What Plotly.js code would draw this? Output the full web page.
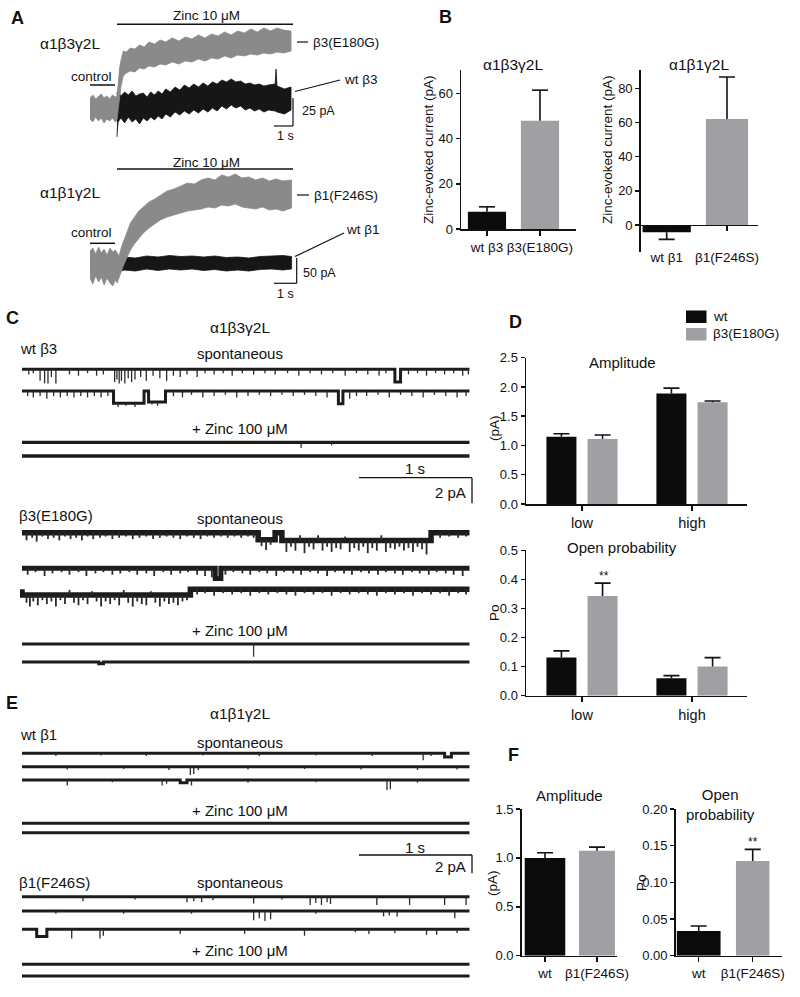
<!DOCTYPE html>
<html><head><meta charset="utf-8">
<script src="https://cdn.plot.ly/plotly-3.0.1.min.js"></script>
<style>html,body{margin:0;padding:0;background:#fff;}#chart{width:800px;height:997px;}</style>
</head><body><div id="chart"></div>
<script>
// ================= DATA =================
// Panel A: whole-cell current envelopes [time (s), low (pA), high (pA)]
const aB3mutEnv = [[0.00,-11,10],[0.15,-14,13],[0.30,-9,9],[0.45,-13,12],[0.60,-10,14],[0.75,-15,10],[0.90,-11,12],[1.05,-13,9],[1.20,-10,13],[1.35,-14,11],[1.44,-12,12],
  [1.50,-4,22],[1.58,10,40],[1.66,22,48],[1.78,32,57],[1.95,35,56],[2.15,37,60],[2.40,36,59],[2.65,40,63],[2.90,39,61],[3.15,42,66],[3.45,41,64],[3.75,44,68],[4.05,43,66],[4.40,46,70],[4.75,44,67],[5.10,47,71],[5.45,46,69],[5.80,49,73],[6.15,47,70],[6.50,50,74],[6.85,49,72],[7.20,52,76],[7.55,50,73],[7.90,53,77],[8.25,52,75],[8.60,54,79],[8.95,53,76],[9.30,55,80],[9.65,54,77],[10.00,56,80],[10.35,55,78],[10.75,57,77]];
const aB3wtEnv = [[1.44,-29,14],[1.50,-14,18],[1.65,-10,12],[1.85,-15,16],[2.05,-9,13],[2.25,-14,17],[2.45,-11,12],[2.65,-16,14],[2.85,-10,15],[3.05,-13,11],[3.25,-9,16],[3.45,-12,13],[3.65,-8,17],[3.85,-11,14],[4.05,-6,19],[4.30,-9,16],[4.55,-4,21],[4.80,-7,18],[5.05,-3,23],[5.30,-6,20],[5.55,-2,24],[5.80,-5,21],[6.05,-1,25],[6.30,-4,22],[6.55,0,26],[6.80,-3,24],[7.05,2,28],[7.30,-1,26],[7.55,3,29],[7.80,0,26],[8.05,2,27],[8.30,-2,24],[8.55,0,25],[8.80,-3,23],[9.05,-1,24],[9.30,-4,22],[9.55,-2,23],[9.90,-3,24],[9.95,-3,39],[10.00,-4,22],[10.40,-6,19],[10.75,-2,21]];
const aB1mutEnv = [[0.00,-30,24],[0.12,-42,30],[0.25,-26,18],[0.38,-38,32],[0.50,-28,20],[0.62,-44,28],[0.75,-30,16],[0.88,-40,30],[1.00,-46,22],[1.12,-34,26],[1.20,-40,20],
  [1.28,-30,14],[1.40,-14,34],[1.52,0,50],[1.65,14,64],[1.78,26,80],[1.95,38,92],[2.15,50,104],[2.35,60,112],[2.60,70,122],[2.85,78,128],[3.10,86,136],[3.40,92,144],[3.70,96,148],[4.00,100,154],[4.30,104,160],[4.60,106,158],[4.90,108,166],[5.20,112,170],[5.50,110,166],[5.80,116,176],[6.10,114,172],[6.40,118,178],[6.70,112,170],[7.00,110,172],[7.30,108,166],[7.60,112,170],[7.90,106,164],[8.20,108,168],[8.50,104,164],[8.88,110,166]];
const aB1wtEnv = [[1.25,-18,10],[1.5,-14,12],[2.0,-16,10],[2.5,-12,14],[3.0,-15,12],[3.5,-12,15],[4.0,-14,13],[4.5,-12,14],[5.0,-15,12],[5.5,-13,14],[6.0,-16,11],[6.5,-14,12],[7.0,-16,10],[7.5,-13,13],[8.0,-12,14],[8.5,-14,15],[8.88,-12,13]];

// Panel B: zinc-evoked current (pA), mean and SEM
const bCats1 = ['wt β3','β3(E180G)'];
const bVals1 = [7.6, 47.9];
const bErr1  = [2.2, 13.5];
const bCats2 = ['wt β1','β1(F246S)'];
const bVals2 = [-4.3, 62.0];
const bErr2  = [4.1, 24.6];

// Panels C / E: single-channel events. spikes [time s, amplitude pA], states [t0, t1, level pA]
const cWt1Spikes = [[0.06,-0.4],[0.1,-0.3],[0.16,-0.9],[0.2,-1.1],[0.23,-1.1],[0.26,-0.6],[0.3,-1.1],[0.42,-0.4],[0.5,-0.5],[0.58,-0.3],[0.66,-0.5],[0.72,-0.4],[0.82,-1.0],[0.84,-0.8],[0.86,-1.1],[0.88,-0.9],[0.91,-1.1],[0.94,-0.7],[0.97,-1.0],[1.0,-0.8],[1.05,-0.6],[1.1,-0.9],[1.16,-0.5],[1.22,-0.7],[1.28,-0.9],[1.34,-0.5],[1.4,-0.6],[1.46,-0.4],[1.55,-0.6],[1.62,-0.3],[1.7,-0.4],[1.78,-0.3],[1.86,-0.5],[1.95,-0.3],[2.05,-0.4],[2.15,-0.3],[2.24,-0.4],[2.35,-0.3],[2.45,-0.5],[2.55,-0.3],[2.65,-0.4],[2.75,-0.3],[2.86,-0.5],[2.96,-0.3],[3.06,-0.4],[3.16,-0.5],[3.22,-0.3],[3.42,-0.4],[3.5,-0.3],[3.58,-0.5],[3.66,-0.3],[3.74,-0.4],[3.82,-0.3],[3.9,-0.5],[3.95,-0.4]];
const cWt1States = [[3.30,3.35,-1.0]];
const cWt2Spikes = [[0.05,-0.4],[0.1,-0.5],[0.16,-0.4],[0.22,-0.6],[0.28,-0.4],[0.34,-0.5],[0.4,-0.4],[0.46,-0.5],[0.52,-0.4],[0.58,-0.5],[0.64,-0.4],[0.7,-0.5],[0.76,-0.4],[0.85,-0.3],[0.92,-0.2],[1.0,-0.3],[1.15,-0.2],[1.2,-0.3],[1.34,-0.4],[1.42,-0.5],[1.5,-0.3],[1.6,-0.5],[1.7,-0.4],[1.8,-0.3],[1.9,-0.5],[2.0,-0.4],[2.1,-0.3],[2.2,-0.4],[2.3,-0.3],[2.4,-0.4],[2.5,-0.3],[2.6,-0.4],[2.7,-0.5],[2.9,-0.6],[2.96,-0.4],[3.05,-0.4],[3.15,-0.3],[3.25,-0.5],[3.35,-0.3],[3.45,-0.4],[3.55,-0.5],[3.65,-0.3],[3.75,-0.4],[3.85,-0.5],[3.93,-0.4]];
const cWt2States = [[0.81,1.08,-0.95],[1.12,1.27,-0.85],[2.80,2.84,-1.0]];
const cWtZn1Spikes = [[2.47,-0.45],[2.74,-0.25]];
const cWtZn2Spikes = [];
const cMut1Spikes = [[0.04,-0.6],[0.09,-0.4],[0.13,-0.7],[0.18,-0.3],[0.23,-0.5],[0.28,-0.4],[0.33,-0.6],[0.38,-0.3],[0.43,-0.5],[0.48,-0.4],[0.53,-0.6],[0.58,-0.3],[0.63,-0.5],[0.69,-0.4],[0.74,-0.3],[0.8,-0.5],[0.86,-0.4],[0.92,-0.3],[0.98,-0.5],[1.04,-0.4],[1.1,-0.3],[1.16,-0.5],[1.22,-0.4],[1.28,-0.3],[1.34,-0.4],[1.4,-0.5],[1.46,-0.3],[1.52,-0.4],[1.58,-0.5],[1.64,-0.3],[1.7,-0.4],[1.76,-0.3],[1.82,-0.4],[1.88,-0.3],[1.94,-0.4],[2.0,-0.3],[2.05,-0.4],
  [2.12,-0.5],[2.16,-0.8],[2.2,-0.4],[2.34,-0.9],[2.38,-0.5],[2.42,-0.8],[2.46,0.4],[2.5,-1.0],[2.54,-0.5],[2.58,-0.7],[2.62,0.4],[2.66,-0.8],[2.7,-0.5],[2.74,-0.9],[2.78,-0.6],[2.82,-0.7],[2.86,0.3],[2.9,-0.9],[2.94,-0.6],[2.98,-0.8],[3.02,-0.5],[3.06,-1.0],[3.1,-0.6],[3.14,-0.8],[3.18,0.4],[3.22,-0.9],[3.26,-0.6],[3.3,-0.7],[3.34,-0.5],[3.38,-0.8],[3.42,-0.6],[3.46,-0.9],[3.5,-0.5],[3.54,-0.7],[3.58,-1.1],[3.7,-0.4],[3.78,-0.3],[3.86,-0.4],[3.93,-0.3]];
const cMut1States = [[2.09,2.24,-0.55],[2.30,3.62,-0.6]];
const cMut2Spikes = [[0.05,-0.5],[0.12,-0.3],[0.2,-0.6],[0.27,-0.4],[0.35,-0.3],[0.42,-0.5],[0.5,-0.3],[0.57,-0.6],[0.65,-0.4],[0.72,-0.3],[0.8,-0.5],[0.87,-0.4],[0.95,-0.3],[1.02,-0.5],[1.1,-0.4],[1.17,-0.6],[1.25,-0.3],[1.32,-0.5],[1.4,-0.4],[1.47,-0.3],[1.55,-0.5],[1.62,-0.6],[1.68,-0.7],[1.8,-0.5],[1.87,-0.3],[1.95,-0.4],[2.02,-0.5],[2.1,-0.3],[2.17,-0.4],[2.25,-0.6],[2.32,-0.3],[2.4,-0.4],[2.47,-0.5],[2.55,-0.3],[2.62,-0.4],[2.7,-0.6],[2.77,-0.3],[2.85,-0.4],[2.92,-0.5],[3.0,-0.3],[3.07,-0.4],[3.15,-0.5],[3.22,-0.3],[3.3,-0.4],[3.37,-0.5],[3.45,-0.3],[3.52,-0.4],[3.6,-0.5],[3.67,-0.3],[3.75,-0.4],[3.82,-0.5],[3.9,-0.6]];
const cMut2States = [[1.71,1.76,-0.8]];
const cMut3Spikes = [[0.04,-0.6],[0.07,-0.9],[0.1,-0.5],[0.14,-0.8],[0.18,-0.4],[0.22,-0.7],[0.26,-0.5],[0.3,-0.9],[0.34,-0.4],[0.38,-0.7],[0.42,0.4],[0.46,-0.6],[0.5,-0.8],[0.54,-0.4],[0.58,-0.7],[0.62,0.3],[0.66,-0.5],[0.7,-0.9],[0.74,-0.5],[0.78,-0.7],[0.82,-0.4],[0.86,-0.8],[0.9,0.4],[0.94,-0.6],[0.98,-0.9],[1.02,-0.5],[1.06,-0.7],[1.1,-0.8],[1.14,0.3],[1.18,-0.6],[1.22,-0.9],[1.26,-0.5],[1.3,-0.7],[1.34,-0.6],[1.38,-0.8],[1.42,-0.5],[1.46,-0.4],
  [1.55,-0.4],[1.62,-0.3],[1.7,-0.5],[1.78,-0.3],[1.86,-0.4],[1.94,-0.3],[2.02,-0.5],[2.1,-0.3],[2.18,-0.4],[2.26,-0.3],[2.34,-0.4],[2.42,-0.5],[2.5,-0.3],[2.58,-0.4],[2.66,-0.3],[2.74,-0.5],[2.82,-0.3],[2.9,-0.4],[2.98,-0.3],[3.06,-0.4],[3.14,-0.5],[3.22,-0.3],[3.3,-0.4],[3.38,-0.3],[3.46,-0.5],[3.54,-0.3],[3.62,-0.4],[3.7,-0.3],[3.78,-0.5],[3.86,-0.3],[3.93,-0.4]];
const cMut3States = [[0.0,1.49,-0.45]];
const cMutZn1Spikes = [[2.05,-1.0]];
const cMutZn2States = [[0.68,0.72,-0.12]];

const eWt1Spikes = [[0.3,-0.3],[0.7,-0.25],[1.1,-0.3],[1.6,-0.25],[2.1,-0.3],[2.6,-0.25],[3.1,-0.3],[3.55,-0.75],[3.62,-0.3]];
const eWt1States = [[3.74,3.80,-0.4]];
const eWt2Spikes = [[0.4,-0.3],[0.9,-0.25],[1.3,-0.35],[1.49,-0.9],[1.52,-0.8],[1.56,-0.4],[2.0,-0.3],[2.5,-0.25],[3.0,-0.3],[3.5,-0.35],[3.85,-0.3]];
const eWt3Spikes = [[0.40,-0.6],[0.8,-0.25],[1.24,-0.6],[1.28,-0.4],[1.5,-0.6],[2.0,-0.3],[2.6,-0.25],[3.23,-1.1],[3.26,-1.0],[3.5,-0.3]];
const eWt3States = [[1.40,1.46,-0.3]];
const eMut1Spikes = [[0.54,-0.5],[1.0,-0.3],[1.46,-0.6],[1.52,-0.5],[1.59,-0.6],[1.69,-0.4],[2.05,-0.75],[2.3,-0.3],[2.55,-0.9],[2.6,-0.7],[2.65,-0.9],[2.7,-0.6],[2.73,-0.8],[3.14,-0.9],[3.43,-0.9],[3.74,-0.9],[3.93,-0.9]];
const eMut2Spikes = [[0.3,-0.3],[0.9,-0.3],[1.5,-0.3],[2.05,-1.0],[2.1,-0.8],[2.15,-1.1],[2.2,-0.9],[2.6,-0.3],[3.2,-0.6],[3.25,-0.5],[3.32,-0.6],[3.83,-0.8]];
const eMut3Spikes = [[0.44,-1.0],[0.69,-1.0],[0.72,-0.7],[1.4,-0.5],[1.97,-0.5],[2.5,-0.7],[2.95,-0.3],[3.07,-0.5],[3.3,-0.4],[3.58,-0.6],[3.67,-0.6],[3.85,-0.4]];
const eMut3States = [[0.13,0.22,-0.8]];

// Panel D: amplitude (pA) and open probability, groups low / high
const dCats = ['low','high'];
const dSeries = ['wt','β3(E180G)'];
const dAmpWt = [1.15, 1.89];   const dAmpWtErr = [0.05, 0.09];
const dAmpMut = [1.11, 1.74];  const dAmpMutErr = [0.07, 0.02];
const dPoWt = [0.131, 0.060];  const dPoWtErr = [0.023, 0.009];
const dPoMut = [0.343, 0.100]; const dPoMutErr = [0.044, 0.031];

// Panel F
const fCats = ['wt','β1(F246S)'];
const fAmp = [1.00, 1.074];  const fAmpErr = [0.053, 0.036];
const fPo = [0.0337, 0.129]; const fPoErr = [0.0068, 0.016];

// ================= DRAWING =================
const FONT = 'Liberation Sans, Arial, sans-serif';
const W = 800, H = 997;
const px = x => x / W, py = y => 1 - y / H;
const INK = '#111111', BLK = '#0b0b0b', GRY = '#a0a0a4';
const layout = {width:W, height:H, margin:{l:0,r:0,t:0,b:0}, paper_bgcolor:'#ffffff', plot_bgcolor:'rgba(0,0,0,0)',
  showlegend:false, hovermode:false, font:{family:FONT,size:13,color:INK}, annotations:[], shapes:[]};
const traces = [];
const hidden = {visible:false};

function ax(n, xpx, ypx, xr, yr, xo, yo){
  const s = n === 1 ? '' : String(n);
  layout['xaxis'+s] = Object.assign({domain:[px(xpx[0]),px(xpx[1])], range:xr, anchor:'y'+s, fixedrange:true}, xo||{});
  layout['yaxis'+s] = Object.assign({domain:[py(ypx[1]),py(ypx[0])], range:yr, anchor:'x'+s, fixedrange:true}, yo||{});
  return {x:'x'+s, y:'y'+s, ppx:(xpx[1]-xpx[0])/(xr[1]-xr[0])};
}
function T(x, y, text, size, opt){
  layout.annotations.push(Object.assign({xref:'paper',yref:'paper',x:px(x),y:py(y),text:text,showarrow:false,
    xanchor:'center',yanchor:'middle',font:{family:FONT,size:size||14,color:INK}}, opt||{}));
}
function Ln(x0,y0,x1,y1,w){
  layout.shapes.push({type:'line',xref:'paper',yref:'paper',x0:px(x0),y0:py(y0),x1:px(x1),y1:py(y1),line:{color:INK,width:w||1.5}});
}
function band(env, a, color){
  const xs = env.map(r=>r[0]), lo = env.map(r=>r[1]), hi = env.map(r=>r[2]);
  traces.push({type:'scatter',mode:'lines',x:xs.concat(xs.slice().reverse()),y:hi.concat(lo.slice().reverse()),
    fill:'toself',fillcolor:color,line:{color:color,width:0.8},xaxis:a.x,yaxis:a.y,hoverinfo:'skip'});
}
function levelAt(states, t){ for(const s of states){ if(t>=s[0] && t<s[1]) return s[2]; } return 0; }
function chan(a, spikes, states, rowPx, scale, baseW, spikeW){
  const Tend = 3.96, off = -rowPx/scale;
  const st = states.slice().sort((p,q)=>p[0]-q[0]);
  const bx=[0], by=[levelAt(st,0)];
  st.forEach(s=>{ bx.push(s[0],s[0],s[1],s[1]); by.push(levelAt(st,s[0]-1e-6), s[2], s[2], levelAt(st,s[1]+1e-6)); });
  bx.push(Tend); by.push(levelAt(st,Tend));
  traces.push({type:'scatter',mode:'lines',x:bx,y:by.map(v=>v+off),line:{color:'#1c1c1c',width:baseW,simplify:false},
    xaxis:a.x,yaxis:a.y,hoverinfo:'skip'});
  if(spikes.length){
    const sx=[], sy=[];
    spikes.forEach(s=>{ const l = levelAt(st,s[0]); sx.push(s[0],s[0],null); sy.push(l+off, l+s[1]+off, null); });
    traces.push({type:'scatter',mode:'lines',x:sx,y:sy,line:{color:'#2a2a2a',width:spikeW||1.3,simplify:false},
      xaxis:a.x,yaxis:a.y,hoverinfo:'skip'});
  }
}
function bars(a, xs, vals, errs, colors, widths){
  traces.push({type:'bar',x:xs,y:vals,width:widths,marker:{color:colors,line:{width:0}},xaxis:a.x,yaxis:a.y,hoverinfo:'skip'});
  const ex=[], ey=[], cw = 8/a.ppx;
  xs.forEach((x,i)=>{const v=vals[i], e=errs[i], tip = v<0 ? v-e : v+e;
    ex.push(x,x,null,x-cw,x+cw,null); ey.push(v,tip,null,tip,tip,null);});
  traces.push({type:'scatter',mode:'lines',x:ex,y:ey,line:{color:INK,width:1.6},xaxis:a.x,yaxis:a.y,hoverinfo:'skip',cliponaxis:false});
}
const axLine = {showline:true,linecolor:INK,linewidth:1.5,ticks:'outside',ticklen:4,tickwidth:1.5,tickcolor:INK,
  showgrid:false,zeroline:false,tickfont:{family:FONT,size:13,color:INK}};
function xCat(cats, size, extra){
  return Object.assign({}, axLine, {tickmode:'array',tickvals:cats.map((c,i)=>i),ticktext:cats,ticklen:5,
    tickfont:{family:FONT,size:size||13.5,color:INK}}, extra||{});
}
function yNum(dtick, fmt){ return Object.assign({}, axLine, {tick0:0,dtick:dtick,tickformat:fmt}); }

// ---- Panel A ----
const aTop = ax(1,[88,296],[20,140],[(88-90)/18.7,(296-90)/18.7],[108-140,108-20],hidden,hidden);
const aBot = ax(2,[88,296],[165,297],[(88-90)/22.7,(296-90)/22.7],[(263-297)*2,(263-165)*2],hidden,hidden);
band(aB3wtEnv, aTop, '#161616');
band(aB3mutEnv, aTop, '#8a8a8a');
band(aB1wtEnv, aBot, '#161616');
band(aB1mutEnv, aBot, '#8a8a8a');

T(17,18,'<b>A</b>',18);
T(207,15,'Zinc 10 μM',13.5); Ln(117,24.3,293,24.3);
T(70,44,'α1β3γ2L',15.5);
T(91,77,'control',13.5); Ln(90,85,115,85);
Ln(297,42,308,42,1.2); T(311,42,'β3(E180G)',13.5,{xanchor:'left'});
Ln(295,91.5,340,80,1.2); T(342,79,'wt β3',13.5,{xanchor:'left'});
Ln(293,98,293,126,1.2); Ln(274,126,293,126,1.2);
T(300,111,'25 pA',12.5,{xanchor:'left'}); T(285,136,'1 s',12.5);

T(207,163,'Zinc 10 μM',13.5); Ln(117,169,293,169);
T(70,193,'α1β1γ2L',15.5);
T(91,233,'control',13.5); Ln(90,243.3,115,243.3);
Ln(297,195,309,195,1.2); T(312,195,'β1(F246S)',13.5,{xanchor:'left'});
Ln(295,256.5,344,233,1.2); T(344,230,'wt β1',13.5,{xanchor:'left'});
Ln(296.7,258,296.7,283.3,1.2); Ln(274,283.3,296.7,283.3,1.2);
T(301,273,'50 pA',12.5,{xanchor:'left'}); T(285,294,'1 s',12.5);

// ---- Panel B ----
const bL = ax(3,[461,576],[70,229],[-0.49,1.68],[0,70.3], xCat(bCats1), yNum(20,'d'));
const bRyr = [-15.8,90.7];
const y0px = 252 - (0-bRyr[0])*(182/(bRyr[1]-bRyr[0]));
const bR = ax(4,[640.7,758],[70,252],[-0.431,1.514],bRyr,
  xCat(bCats2,13.5,{anchor:'free',position:py(y0px),ticklabelstandoff:14}), yNum(20,'d'));
bars(bL,[0,1],bVals1,bErr1,[BLK,GRY],[0.72,0.72]);
bars(bR,[0,1],bVals2,bErr2,[BLK,GRY],[0.8,0.7]);
T(445,17,'<b>B</b>',18);
T(513,65,'α1β3γ2L',15.5); T(699,65,'α1β1γ2L',15.5);
T(428,150,'Zinc-evoked current (pA)',13.5,{textangle:-90});
T(607,150,'Zinc-evoked current (pA)',13.5,{textangle:-90});

// ---- Panel C ----
const C = ax(5,[20,472],[355,680],[(20-22)/113,(472-22)/113],[-680/12.8,-355/12.8],hidden,hidden);
const sC = 12.8;
chan(C,cWt1Spikes,cWt1States,369.3,sC,3,1.3);
chan(C,cWt2Spikes,cWt2States,391,sC,3,1.3);
chan(C,cWtZn1Spikes,[],442.3,sC,3.2,1.2);
chan(C,cWtZn2Spikes,[],456,sC,3.4,1.2);
chan(C,cMut1Spikes,cMut1States,532.7,sC,5.5,1.8);
chan(C,cMut2Spikes,cMut2States,568.3,sC,5,1.8);
chan(C,cMut3Spikes,cMut3States,589.3,sC,5.5,1.8);
chan(C,cMutZn1Spikes,[],644,sC,3.2,1.2);
chan(C,[],cMutZn2States,662,sC,3.2,1.2);
T(12,318,'<b>C</b>',18);
T(240,328,'α1β3γ2L',15.5);
T(18,348,'wt β3',15,{xanchor:'left'});
T(240,353,'spontaneous',15);
T(240,428,'+ Zinc 100 μM',15);
Ln(359,477.7,472,477.7,1.3); Ln(472,477.7,472,503.3,1.3);
T(415,468,'1 s',15); T(468,493,'2 pA',15,{xanchor:'right'});
T(17,515,'β3(E180G)',15,{xanchor:'left'});
T(240,518,'spontaneous',15);
T(240,630,'+ Zinc 100 μM',15);

// ---- Panel D ----
const dA = ax(6,[526,747],[357.7,504],[-0.509,1.5],[0,2.5], xCat(dCats,14.5), yNum(0.5,'.1f'));
const dP = ax(7,[526,747],[550.3,695.7],[-0.509,1.5],[0,0.5], xCat(dCats,14.5), yNum(0.1,'.1f'));
const dOff = 0.187, dW = 0.273;
bars(dA, dCats.map((c,i)=>i-dOff), dAmpWt, dAmpWtErr, BLK, dW);
bars(dA, dCats.map((c,i)=>i+dOff), dAmpMut, dAmpMutErr, GRY, dW);
bars(dP, dCats.map((c,i)=>i-dOff), dPoWt, dPoWtErr, BLK, dW);
bars(dP, dCats.map((c,i)=>i+dOff), dPoMut, dPoMutErr, GRY, dW);
T(515,322,'<b>D</b>',18);
layout.shapes.push({type:'rect',xref:'paper',yref:'paper',x0:px(686),x1:px(706.5),y0:py(323),y1:py(310.5),fillcolor:BLK,line:{width:0}});
layout.shapes.push({type:'rect',xref:'paper',yref:'paper',x0:px(686),x1:px(706.5),y0:py(340.5),y1:py(328),fillcolor:GRY,line:{width:0}});
T(711,316.5,dSeries[0],13.5,{xanchor:'left'});
T(711,334,dSeries[1],13.5,{xanchor:'left'});
T(622,362,'Amplitude',15);
T(622,547,'Open probability',15);
T(494,428,'(pA)',13.5,{textangle:-90});
T(494,613,'Po',13.5,{textangle:-90});
T(604,576,'**',12);

// ---- Panel E ----
const E = ax(8,[20,472],[740,990],[(20-22)/113,(472-22)/113],[-990/9.15,-740/9.15],hidden,hidden);
const sE = 9.15;
chan(E,eWt1Spikes,eWt1States,753.3,sE,3,1.3);
chan(E,eWt2Spikes,[],766.7,sE,3,1.3);
chan(E,eWt3Spikes,eWt3States,780,sE,3,1.3);
chan(E,[],[],823.3,sE,3,1.2);
chan(E,[],[],832.7,sE,3,1.2);
chan(E,eMut1Spikes,[],896.7,sE,3,1.3);
chan(E,eMut2Spikes,[],911,sE,3,1.3);
chan(E,eMut3Spikes,eMut3States,929.3,sE,3,1.3);
chan(E,[],[],964.3,sE,3,1.2);
chan(E,[],[],976,sE,3,1.2);
T(12,703,'<b>E</b>',18);
T(240,713,'α1β1γ2L',15.5);
T(18,734,'wt β1',15,{xanchor:'left'});
T(240,742,'spontaneous',15);
T(240,810,'+ Zinc 100 μM',15);
Ln(359,855,472,855,1.3); Ln(472,855,472,873.3,1.3);
T(415,847,'1 s',15); T(468,866,'2 pA',15,{xanchor:'right'});
T(17,882,'β1(F246S)',15,{xanchor:'left'});
T(240,882,'spontaneous',15);
T(240,950,'+ Zinc 100 μM',15);

// ---- Panel F ----
const fA = ax(9,[521.7,617],[809,955.7],[-0.448,1.385],[0,1.5], xCat(fCats,13.5), yNum(0.5,'.1f'));
const fP = ax(10,[675.7,781.7],[809,955.7],[-0.426,1.537],[0,0.2], xCat(fCats,13.5), yNum(0.05,'.2f'));
bars(fA,[0,1],fAmp,fAmpErr,[BLK,GRY],[0.78,0.69]);
bars(fP,[0,1],fPo,fPoErr,[BLK,GRY],[0.81,0.62]);
T(513,755,'<b>F</b>',18);
T(569,795,'Amplitude',15);
T(720,804,'Open<br>probability',15);
T(492,883,'(pA)',13.5,{textangle:-90});
T(641,883,'Po',13.5,{textangle:-90});
T(753,842,'**',12);

Plotly.newPlot('chart', traces, layout, {staticPlot:true, displayModeBar:false});
</script>
</body></html>
